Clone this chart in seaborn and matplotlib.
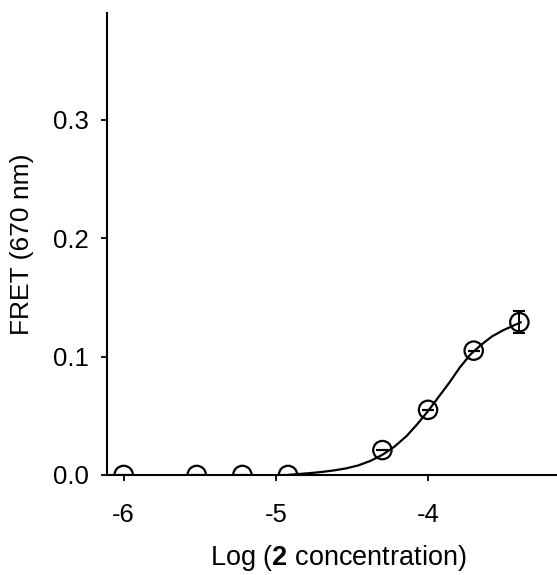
import numpy as np
import pandas as pd
import matplotlib
matplotlib.use("Agg")
import matplotlib.pyplot as plt
import seaborn as sns

# measured points
log_conc = [-6.0, -5.52, -5.22, -4.92, -4.30, -4.0, -3.70, -3.40]
fret = [0.0, 0.0, 0.0, 0.0, 0.021, 0.055, 0.105, 0.129]
fret_err = [0.0, 0.0, 0.0, 0.0, 0.0, 0.0, 0.0, 0.0095]

# fitted curve
fit_x = [-4.92, -4.85, -4.78, -4.70, -4.62, -4.54, -4.46, -4.38, -4.30, -4.22,
         -4.14, -4.07, -4.00, -3.93, -3.86, -3.79, -3.72, -3.65, -3.58, -3.51,
         -3.45, -3.39]
fit_y = [0.0, 0.0008, 0.0015, 0.0025, 0.0038, 0.0055, 0.0080, 0.0118, 0.0170, 0.0240,
         0.033, 0.043, 0.054, 0.066, 0.078, 0.091, 0.102, 0.110, 0.117, 0.122,
         0.1255, 0.129]

xticks = [-6, -5, -4]
yticks = [0.0, 0.1, 0.2, 0.3]

sns.set_style("ticks")
plt.rcParams.update({
    "font.family": ["Liberation Sans", "DejaVu Sans"],
    "mathtext.fontset": "custom",
    "mathtext.rm": "Liberation Sans",
    "mathtext.bf": "Liberation Sans:bold",
    "axes.unicode_minus": False,
    "axes.edgecolor": "black",
    "axes.linewidth": 1.5,
    "xtick.major.width": 1.3,
    "ytick.major.width": 1.3,
    "xtick.major.size": 4,
    "ytick.major.size": 4,
    "xtick.color": "black",
    "ytick.color": "black",
    "text.color": "black",
    "axes.labelcolor": "black",
})

df_pts = pd.DataFrame({"x": log_conc, "y": fret, "err": fret_err})
df_fit = pd.DataFrame({"x": fit_x, "y": fit_y})

fig = plt.figure(figsize=(5.57, 5.75), dpi=100)
ax = fig.add_axes([0.192, 0.174, 0.806, 0.803])

sns.lineplot(data=df_fit, x="x", y="y", color="black", linewidth=1.6, ax=ax)
ax.errorbar(df_pts["x"], df_pts["y"], yerr=df_pts["err"], fmt="none",
            ecolor="black", elinewidth=1.4, capsize=4.5, capthick=1.5)
sns.scatterplot(data=df_pts, x="x", y="y", marker="o", s=175,
                facecolor="none", edgecolor="black", linewidth=1.6, ax=ax, zorder=3)

ax.set_xlim(-6.11, -3.16)
ax.set_ylim(0, 0.39)
ax.set_xticks(xticks)
ax.set_yticks(yticks)
ax.set_xticklabels([str(t) for t in xticks])
ax.set_yticklabels([f"{t:.1f}" for t in yticks])
ax.tick_params(labelsize=18.5)
ax.tick_params(axis="x", pad=16)
ax.tick_params(axis="y", pad=9)
ax.spines["top"].set_visible(False)
ax.spines["right"].set_visible(False)

ax.set_xlabel(r"Log ($\mathbf{2}$ concentration)", fontsize=19.5)
ax.set_ylabel("FRET (670 nm)", fontsize=19)
ax.xaxis.set_label_coords(0.515, -0.148)
ax.yaxis.set_label_coords(-0.163, 0.5)

fig.savefig("out.png", dpi=100)
